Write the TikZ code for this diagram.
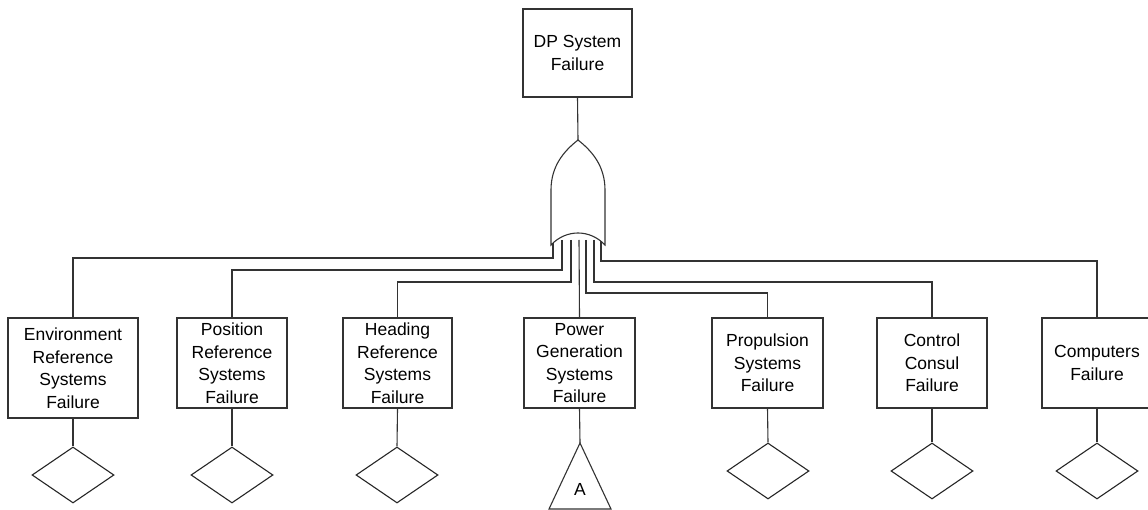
\documentclass[tikz,border=0pt]{standalone}
\usepackage{fontspec}
\setmainfont{Liberation Sans}
\usepackage{tikz}
\usetikzlibrary{shapes,shapes.geometric}

\begin{document}
\begin{tikzpicture}[x=1pt,y=-1pt,
    event/.style={rectangle,draw=black!80,line width=1.1pt,fill=white,align=center,
        inner sep=0pt,font=\fontsize{17.5}{22.5}\selectfont},
    basic/.style={diamond,draw=black!85,line width=1.1pt,fill=white,inner sep=0pt,
        aspect=1.46,minimum width=82pt,minimum height=56pt},
    wire/.style={black!80,line width=1.1pt}]
    \useasboundingbox (0,0) rectangle (1148,510);

    \node[event,minimum width=109pt,minimum height=88pt] (top) at (577.5,53) {DP System\\Failure};

    \node[event,minimum width=130pt,minimum height=100pt] (env) at (73,368) {Environment\\Reference\\Systems\\Failure};
    \node[event,minimum width=110pt,minimum height=90pt] (pos) at (232,363) {Position\\Reference\\Systems\\Failure};
    \node[event,minimum width=109pt,minimum height=90pt] (head) at (397.5,363) {Heading\\Reference\\Systems\\Failure};
    \node[event,minimum width=111pt,minimum height=90pt] (power) at (579.5,363) {Power\\Generation\\Systems\\Failure};
    \node[event,minimum width=111pt,minimum height=90pt] (prop) at (767.5,363) {Propulsion\\Systems\\Failure};
    \node[event,minimum width=110pt,minimum height=90pt] (ctrl) at (932,363) {Control\\Consul\\Failure};
    \node[event,minimum width=110pt,minimum height=90pt] (comp) at (1097,363) {Computers\\Failure};

    \node[basic] (d1) at (73,475) {};
    \node[basic] (d2) at (232,475) {};
    \node[basic] (d3) at (397,475) {};
    \node[basic] (d5) at (768,471) {};
    \node[basic] (d6) at (932,471) {};
    \node[basic] (d7) at (1097,471) {};

    % transfer triangle
    \coordinate (trtop) at (580,443);
    \draw[wire,fill=white] (trtop) -- (611,509) -- (549,509) -- cycle;
    \node[font=\fontsize{17.5}{22.5}\selectfont] (trA) at (580,489) {A};

    % gate inputs and turning points
    \coordinate (gi1) at (553,240); \coordinate (t1) at (553,258);
    \coordinate (gi2) at (562,240); \coordinate (t2) at (562,270);
    \coordinate (gi3) at (571,240); \coordinate (t3) at (571,282);
    \coordinate (gi4) at (579,240);
    \coordinate (gi5) at (586,240); \coordinate (t5) at (586,293);
    \coordinate (gi6) at (594,240); \coordinate (t6) at (594,282);
    \coordinate (gi7) at (601,240); \coordinate (t7) at (601,261);
    \coordinate (gtip) at (578,140);

    \draw[wire] (gi1) -- (t1) -| (env.north);
    \draw[wire] (gi2) -- (t2) -| (pos.north);
    \draw[wire] (gi3) -- (t3) -| (head.north);
    \draw[wire] (gi4) -- (power.north);
    \draw[wire] (gi5) -- (t5) -| (prop.north);
    \draw[wire] (gi6) -- (t6) -| (ctrl.north);
    \draw[wire] (gi7) -- (t7) -| (comp.north);

    % OR gate
    \draw[wire,fill=white] (551,245) -- (551,190) .. controls (551,166) and (564,151) .. (gtip)
        .. controls (592,151) and (605,166) .. (605,190) -- (605,245)
        .. controls (590,229) and (566,229) .. cycle;
    \draw[wire] (top.south) -- (gtip);

    \draw[wire] (env.south) -- (d1.north);
    \draw[wire] (pos.south) -- (d2.north);
    \draw[wire] (head.south) -- (d3.north);
    \draw[wire] (power.south) -- (trtop);
    \draw[wire] (prop.south) -- (d5.north);
    \draw[wire] (ctrl.south) -- (d6.north);
    \draw[wire] (comp.south) -- (d7.north);
\end{tikzpicture}
\end{document}
